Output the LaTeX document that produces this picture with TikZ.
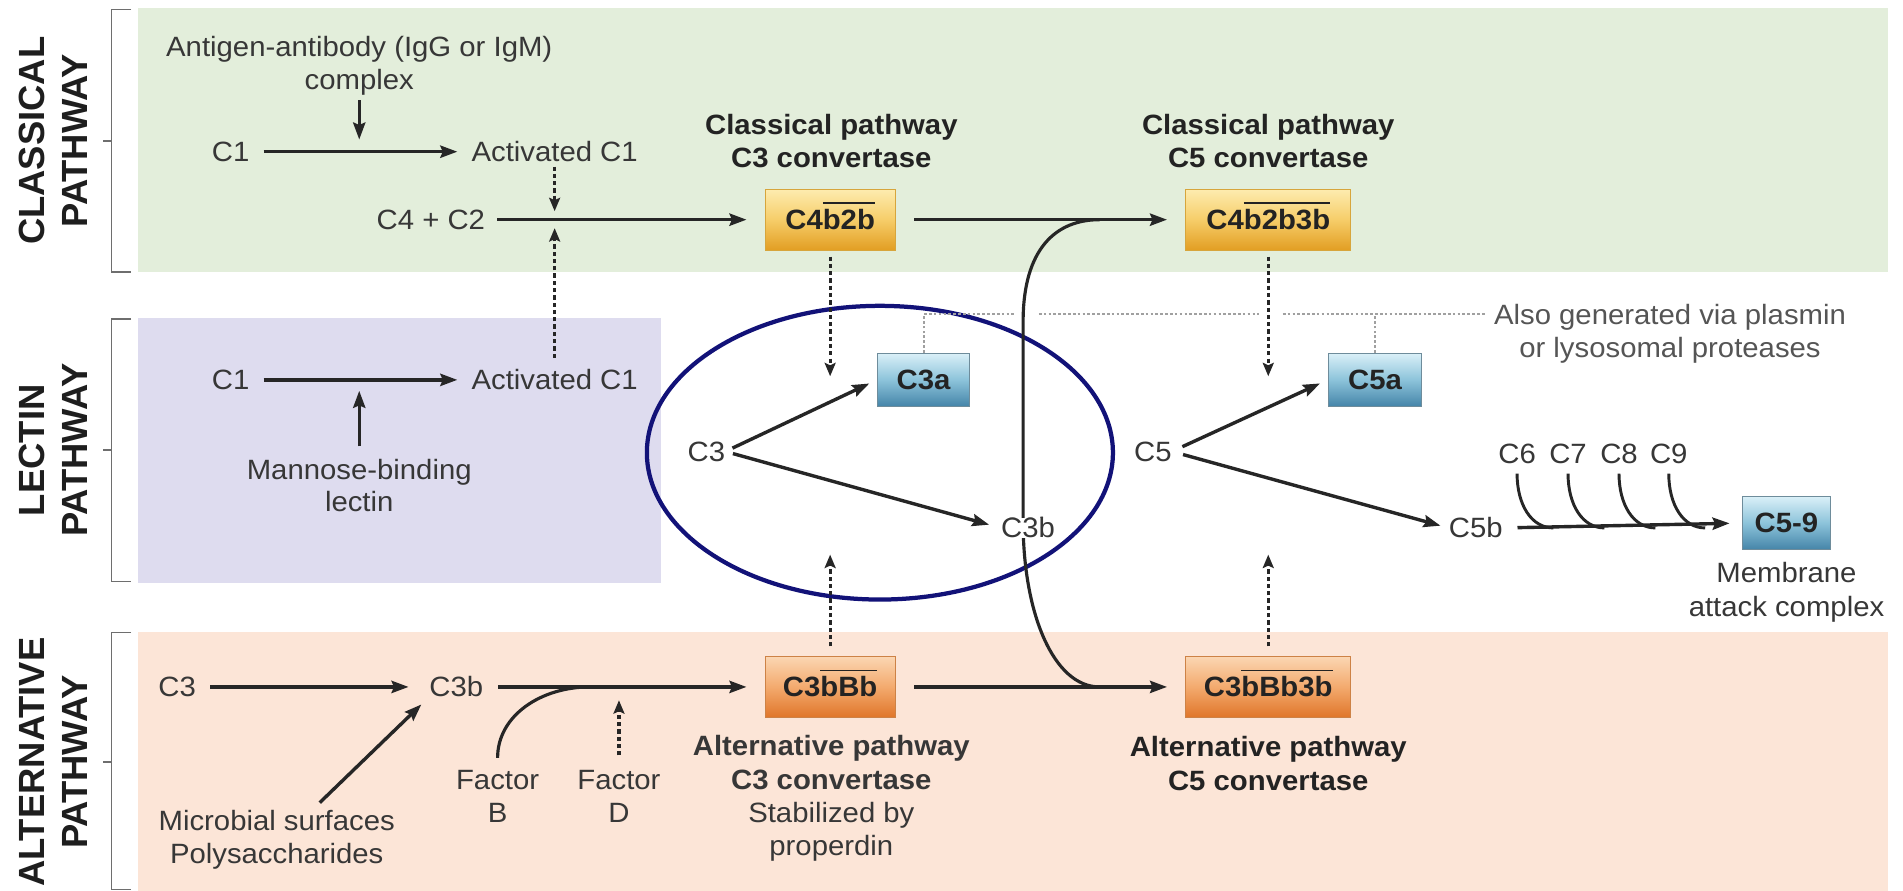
\documentclass[tikz,border=0pt]{standalone}
\usepackage{fontspec}
\setmainfont{Liberation Sans}[FakeStretch=1.05]
\newfontfamily\sidefont{Liberation Sans}
\usetikzlibrary{arrows.meta}
\definecolor{bggreen}{RGB}{227,238,219}
\definecolor{bglav}{RGB}{222,220,239}
\definecolor{bgpeach}{RGB}{252,229,215}
\definecolor{txtc}{RGB}{55,55,55}
\definecolor{boxtxt}{RGB}{35,35,35}
\definecolor{linec}{RGB}{38,38,38}
\definecolor{dotc}{RGB}{160,160,160}
\definecolor{brc}{RGB}{110,110,110}
\definecolor{sidec}{RGB}{30,30,30}
\definecolor{navy}{RGB}{18,18,120}
\definecolor{ctop}{RGB}{253,236,175}
\definecolor{cmid}{RGB}{246,205,105}
\definecolor{cbot}{RGB}{226,158,35}
\definecolor{cedge}{RGB}{215,165,60}
\definecolor{atop}{RGB}{251,214,178}
\definecolor{amid}{RGB}{243,170,110}
\definecolor{abot}{RGB}{224,118,42}
\definecolor{aedge}{RGB}{205,130,70}
\definecolor{btop}{RGB}{218,240,248}
\definecolor{bmid}{RGB}{140,195,218}
\definecolor{bbot}{RGB}{68,132,168}
\definecolor{bedge}{RGB}{110,140,155}
\definecolor{alsoc}{RGB}{85,85,85}
\newcommand{\ovl}[1]{\vbox{\hrule height 1.1bp\kern 4.5bp\hbox{#1}}}
\begin{document}
\begin{tikzpicture}[x=1bp,y=-1bp,
  every node/.style={font=\fontsize{23bp}{27bp}\selectfont, text=txtc},
  lbl/.style={inner sep=0pt, text height=16bp, text depth=0pt},
  mlbl/.style={inner sep=0pt, align=center},
  bold/.style={font=\fontsize{23bp}{27.5bp}\selectfont\bfseries, text=boxtxt},
  boxbase/.style={inner sep=0pt, text height=16bp, text depth=0pt,
    font=\fontsize{23bp}{27bp}\selectfont\bfseries, text=boxtxt, line width=0.8bp},
  cbox/.style={boxbase, draw=cedge, top color=ctop, bottom color=cbot, middle color=cmid,
    minimum height=50bp},
  abox/.style={boxbase, draw=aedge, top color=atop, bottom color=abot, middle color=amid,
    minimum height=50bp},
  bbox/.style={boxbase, draw=bedge, top color=btop, bottom color=bbot, middle color=bmid,
    minimum height=44bp},
  arr/.style={draw=linec, line width=2.8bp, -{Stealth[length=14bp,width=10bp,inset=2bp]}},
  darr/.style={draw=linec, line width=2.6bp, dash pattern=on 3.5bp off 2.5bp,
    -{Stealth[length=11bp,width=9bp,inset=2bp]}},
  plain/.style={draw=linec, line width=2.6bp},
  dots/.style={draw=dotc, line width=1.8bp, dash pattern=on 2.2bp off 1.8bp},
  bracket/.style={draw=brc, line width=1.3bp},
  side/.style={font=\sidefont\fontsize{30bp}{36bp}\selectfont\bfseries, align=center,
    rotate=90, inner sep=0pt, text=sidec}
]
\useasboundingbox (0,0) rectangle (1568,734);
\fill[white] (0,0) rectangle (1568,734);
% pathway regions
\fill[bggreen] (114,7) rectangle (1556,224);
\fill[bglav] (114,262) rectangle (545,480);
\fill[bgpeach] (114,521) rectangle (1556,734);
% brackets
\draw[bracket] (108,8) -- (92,8) -- (92,224) -- (108,224) (92,116) -- (85,116);
\draw[bracket] (108,263) -- (92,263) -- (92,479) -- (108,479) (92,371) -- (85,371);
\draw[bracket] (108,521) -- (92,521) -- (92,733) -- (108,733) (92,628) -- (85,628);
% side labels
\node[side] (sidecl) at (44,116) {CLASSICAL\\PATHWAY};
\node[side] (sidele) at (44,371) {LECTIN\\PATHWAY};
\node[side] (sideal) at (44,628) {ALTERNATIVE\\PATHWAY};

% ellipse highlight
\draw[navy, line width=3.5bp] (725,373) ellipse [x radius=192, y radius=121];

% classical pathway
\node[mlbl] (antigen) at (296,54) {Antigen-antibody (IgG or IgM)\\complex};
\node[lbl] (c1) at (190,125) {C1};
\node[lbl] (act1) at (457,125) {Activated C1};
\node[lbl] (c4c2) at (355,181) {C4 + C2};
\node[mlbl, bold] (cl3lab) at (685,116) {Classical pathway\\C3 convertase};
\node[cbox, minimum width=107bp] (c4b2b) at (684,181) {C4\ovl{b2b}};
\node[mlbl, bold] (cl5lab) at (1045,116) {Classical pathway\\C5 convertase};
\node[cbox, minimum width=136bp] (c4b2b3b) at (1045,181) {C4\ovl{b2b3b}};

% lectin pathway
\node[lbl] (lc1) at (190,313) {C1};
\node[lbl] (lact1) at (457,313) {Activated C1};
\node[mlbl] (mbl) at (296,400) {Mannose-binding\\lectin};

% middle
\node[lbl] (c3) at (582,372) {C3};
\node[bbox, minimum width=76bp] (c3a) at (761,313) {C3a};
\node[lbl, fill=white] (c3b) at (847,435) {C3b};
\node[lbl] (c5) at (950,372) {C5};
\node[bbox, minimum width=77bp] (c5a) at (1133,313) {C5a};
\node[lbl] (c5b) at (1216,435) {C5b};
\node[lbl] (c6) at (1250,374) {C6};
\node[lbl] (c7) at (1292,374) {C7};
\node[lbl] (c8) at (1334,374) {C8};
\node[lbl] (c9) at (1375,374) {C9};
\node[bbox, minimum width=73bp] (c59) at (1472,431) {C5-9};
\node[mlbl, font=\fontsize{23bp}{28bp}\selectfont] (mac) at (1472,488) {Membrane\\attack complex};
\node[mlbl, text=alsoc] (also) at (1376,275) {Also generated via plasmin\\or lysosomal proteases};

% alternative pathway
\node[lbl] (ac3) at (146,566) {C3};
\node[lbl] (ac3b) at (376,566) {C3b};
\node[mlbl] (micro) at (228,692) {Microbial surfaces\\Polysaccharides};
\node[mlbl] (fb) at (410,656) {Factor\\B};
\node[mlbl] (fd) at (510,656) {Factor\\D};
\node[abox, minimum width=107bp] (c3bbb) at (684,566) {C3\ovl{bBb}};
\node[abox, minimum width=136bp] (c3bbb3b) at (1045,566) {C3\ovl{bBb3b}};
\node[mlbl, font=\fontsize{23bp}{27.5bp}\selectfont] (al3lab) at (685,658)
  {\textbf{Alternative pathway}\\\textbf{C3 convertase}\\Stabilized by\\properdin};
\node[mlbl, bold] (al5lab) at (1045,629) {Alternative pathway\\C5 convertase};

% coordinates for free ends
\coordinate (mTop) at (906,181);
\coordinate (mBot) at (906,566);
\coordinate (jB) at (486,566);
\coordinate (j6) at (1280,435);
\coordinate (j7) at (1322,435);
\coordinate (j8) at (1364,435);
\coordinate (j9) at (1405,435);
\coordinate (dA) at (836,259);
\coordinate (dB) at (856,259);
\coordinate (dC) at (1037,259);
\coordinate (dD) at (1057,259);
\coordinate (dE) at (1224,259);

% dotted "also generated" lines
\draw[dots] (c3a.north) |- (dA);
\draw[dots] (dB) -- (dC);
\draw[dots] (dD) -- (dE);
\draw[dots] (c5a.north) -- (c5a.north |- dC);

% classical connectors
\draw[arr, shorten <=4bp, shorten >=10bp] (antigen.south) -- (antigen.south |- c1);
\draw[arr, shorten <=11.5bp, shorten >=11.5bp] (c1.east) -- (act1.west);
\draw[darr, shorten <=4bp, shorten >=7bp] (act1.south) -- (act1.south |- c4c2);
\draw[arr, shorten <=10bp, shorten >=15bp] (c4c2.east) -- (c4b2b.west);
\draw[arr, shorten <=15.5bp, shorten >=15bp] (c4b2b.east) -- (c4b2b3b.west);
\draw[darr, shorten <=5bp, shorten >=3bp] (c4b2b.south) -- (c4b2b.south |- c3a);
\draw[darr, shorten <=5bp, shorten >=3bp] (c4b2b3b.south) -- (c4b2b3b.south |- c5a);

% lectin connectors
\draw[arr, shorten <=11.5bp, shorten >=11.5bp] (lc1.east) -- (lact1.west);
\draw[arr, shorten <=10bp, shorten >=9bp] (mbl.north) -- (mbl.north |- lc1);
\draw[darr, shorten <=10bp, shorten >=7bp] (lact1.north) -- (lact1.north |- c4c2);

% big merging curve
\draw[plain] (mTop) .. controls (870,181) and (843,205) .. (843,265) -- (843,430)
  .. controls (843,505) and (868,566) .. (mBot);
% redraw C3b label over the curve
\node[lbl, fill=white] at (c3b) {C3b};

% cleavage arrows
\draw[arr, shorten <=6.5bp, shorten >=7bp] (c3.east) -- (c3a.west);
\draw[arr, shorten <=6.5bp, shorten >=10bp] (c3.east) -- (c3b.west);
\draw[arr, shorten <=9.5bp, shorten >=7bp] (c5.east) -- (c5a.west);
\draw[arr, shorten <=9.5bp, shorten >=7bp] (c5.east) -- (c5b.west);
\draw[arr, shorten <=12bp, shorten >=10bp] (c5b.east) -- (c59.west);
\draw[plain, line width=2.4bp, shorten <=8bp] (c6.south) .. controls +(0,34) and +(-18,0) .. (j6);
\draw[plain, line width=2.4bp, shorten <=8bp] (c7.south) .. controls +(0,34) and +(-18,0) .. (j7);
\draw[plain, line width=2.4bp, shorten <=8bp] (c8.south) .. controls +(0,34) and +(-18,0) .. (j8);
\draw[plain, line width=2.4bp, shorten <=8bp] (c9.south) .. controls +(0,34) and +(-18,0) .. (j9);

% alternative connectors
\draw[arr, shorten <=11.5bp, shorten >=17bp] (ac3.east) -- (ac3b.west);
\draw[arr, shorten <=9bp, shorten >=9bp] ([xshift=29bp]micro.north) -- (ac3b.south west);
\draw[arr, shorten <=12bp, shorten >=15bp] (ac3b.east) -- (c3bbb.west);
\draw[plain, shorten <=10bp] (fb.north) .. controls +(0,-45) and +(-40,0) .. (jB);
\draw[darr, shorten <=12bp, shorten >=11bp] (fd.north) -- (fd.north |- ac3b);
\draw[arr, shorten <=15.5bp, shorten >=15bp] (c3bbb.east) -- (c3bbb3b.west);
\draw[darr, shorten <=8bp, shorten >=22bp] (c3bbb.north) -- (c3bbb.north |- c3b);
\draw[darr, shorten <=8bp, shorten >=22bp] (c3bbb3b.north) -- (c3bbb3b.north |- c5b);
\end{tikzpicture}
\end{document}
